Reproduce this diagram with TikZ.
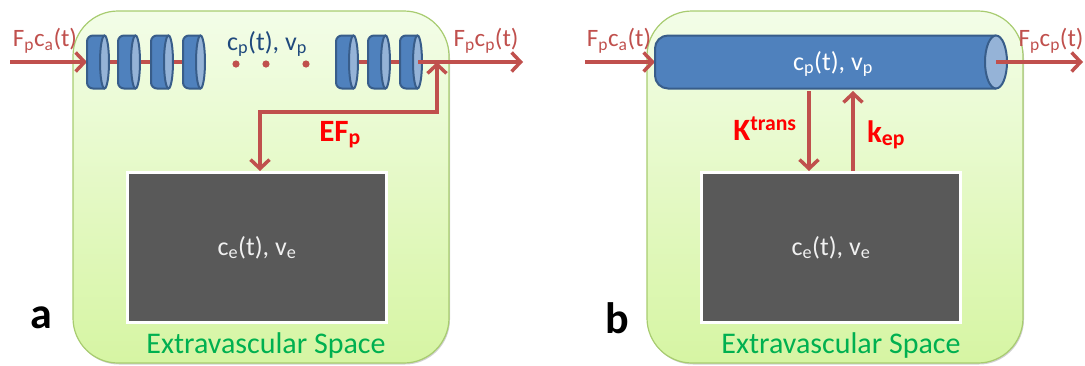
\documentclass[tikz,border=0pt]{standalone}
\usepackage{fontspec}
\setmainfont{Carlito}
\usetikzlibrary{arrows.meta}
\definecolor{redarrow}{HTML}{C0504D}
\definecolor{discblue}{HTML}{4F81BD}
\definecolor{discedge}{HTML}{385D8A}
\definecolor{disccap}{HTML}{95B3D7}
\definecolor{gboxtop}{HTML}{F3FDE8}
\definecolor{gboxbot}{HTML}{D6F5A3}
\definecolor{gboxedge}{HTML}{A8CC70}
\definecolor{textblue}{HTML}{1F497D}
\definecolor{textgreen}{HTML}{00B050}
\definecolor{darkfill}{HTML}{595959}
\tikzset{
  greenbox/.style={draw=gboxedge, line width=1.2pt, rounded corners=45pt, top color=gboxtop, bottom color=gboxbot},
  boxshadow/.style={fill=black!18, rounded corners=45pt},
  graybox/.style={draw=white, line width=3pt, fill=darkfill, text=white!94!black, inner sep=0pt,
    minimum width=259pt, minimum height=150pt, font=\fontsize{26}{30}\selectfont},
  redline/.style={draw=redarrow, line width=3.5pt},
  redarr/.style={redline, -{Straight Barb[length=9pt,width=19pt]}},
  redarrboth/.style={redline, {Straight Barb[length=9pt,width=19pt]}-{Straight Barb[length=9pt,width=19pt]}, line join=miter},
  flowlab/.style={text=redarrow, inner sep=0pt, font=\fontsize{25}{30}\selectfont},
  ratelab/.style={text=red, inner sep=0pt, anchor=base, font=\bfseries\fontsize{31}{36}\selectfont},
  spacelab/.style={text=textgreen, inner sep=0pt, anchor=base, font=\fontsize{30}{34}\selectfont},
  panellab/.style={text=black, inner sep=0pt, font=\bfseries\fontsize{44}{50}\selectfont},
  discbody/.style={fill=discblue},
  discline/.style={draw=discedge, line width=2pt},
  disccapst/.style={draw=discedge, line width=2pt, fill=disccap}
}
\begin{document}
\begin{tikzpicture}[x=1pt,y=-1pt]
\useasboundingbox (0,0) rectangle (1085,365);

% ---------------- panel a ----------------
\path[boxshadow] (74,13) rectangle (450,364.5);
\path[greenbox] (73,11) rectangle (449,363);
\node[graybox] (ea) at (257,247.5) {c\textsubscript{e}(t), v\textsubscript{e}};
\node[spacelab] (spa) at (266,353) {Extravascular Space};
\node[panellab] (pa) at (41,318) {a};

\coordinate (inA) at (10,62);
\coordinate (d1) at (87,62);
\coordinate (d4) at (201,62);
\coordinate (d5) at (340,62);
\coordinate (ja) at (437,62);
\coordinate (capA) at (418,62);
\coordinate (outA) at (523,62);
\coordinate (elbowL) at (260,112);
\coordinate (elbowA) at (437,112);

\draw[redarr] (inA) -- (d1);
\draw[redline] (d1) -- (d4);
\draw[redline] (d5) -- (capA);

\foreach \a in {87,118,151,183,336,368,400} {
  \filldraw[discbody, discline, rounded corners=6pt] (\a+17.5,35.5) -- (\a,35.5) -- (\a,88.5) -- (\a+17.5,88.5);
  \filldraw[disccapst] (\a+17.5,62) ellipse[x radius=4.5, y radius=26.5];
}
\draw[redarr] (capA) -- (outA);
\foreach \x in {236,266,306} \fill[redarrow] (\x,64) circle (3.6);

\node[flowlab] (la1) at (45,41) {F\textsubscript{p}c\textsubscript{a}(t)};
\node[flowlab] (la2) at (486,41) {F\textsubscript{p}c\textsubscript{p}(t)};
\node[text=textblue, inner sep=0pt, font=\fontsize{26}{30}\selectfont] (lpa) at (267,44) {c\textsubscript{p}(t), v\textsubscript{p}};

\draw[redarrboth] (elbowL |- ea.north) |- (elbowA) -- (ja);
\node[ratelab] (ef) at (340,141) {EF\textsubscript{p}};

% ---------------- panel b ----------------
\path[boxshadow] (648,13) rectangle (1024,364.5);
\path[greenbox] (647,11) rectangle (1023,363);
\node[graybox] (eb) at (831,247.5) {c\textsubscript{e}(t), v\textsubscript{e}};
\node[spacelab] (spb) at (841,353) {Extravascular Space};
\node[panellab] (pb) at (617,318) {b};

\coordinate (inB) at (585,62);
\coordinate (cylL) at (655,62);
\coordinate (capB) at (996,62);
\coordinate (outB) at (1083,62);

\draw[redarr] (inB) -- (cylL);
\filldraw[discbody, discline, rounded corners=13pt] (996,35.5) -- (655,35.5) -- (655,88.5) -- (996,88.5);
\filldraw[disccapst] (996,62) ellipse[x radius=11, y radius=26.5];
\node[text=white, inner sep=0pt, font=\fontsize{26}{30}\selectfont] (lpb) at (833,64) {c\textsubscript{p}(t), v\textsubscript{p}};
\draw[redarr] (capB) -- (outB);

\node[flowlab] (lb1) at (619,41) {F\textsubscript{p}c\textsubscript{a}(t)};
\node[flowlab] (lb2) at (1051,41) {F\textsubscript{p}c\textsubscript{p}(t)};

\coordinate (kt) at (809,91);
\coordinate (ke) at (853,91);
\draw[redarr] (kt) -- (kt |- eb.north);
\draw[redarr] (ke |- eb.north) -- (ke);
\node[ratelab] (ktr) at (765,140) {K\textsuperscript{trans}};
\node[ratelab] (kep) at (886,142) {k\textsubscript{ep}};
\end{tikzpicture}
\end{document}
